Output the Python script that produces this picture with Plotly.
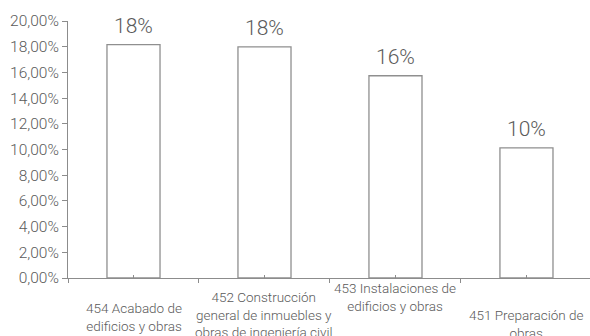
import plotly.graph_objects as go

categories = ["454", "452", "453", "451"]
category_labels = [
    "454 Acabado de<br>edificios y obras",
    "452 Construcción<br>general de inmuebles y<br>obras de ingeniería civil",
    "453 Instalaciones de<br>edificios y obras",
    "451 Preparación de<br>obras",
]
values = [0.1816, 0.1798, 0.1574, 0.1013]
y_ticks = [0, 0.02, 0.04, 0.06, 0.08, 0.10, 0.12, 0.14, 0.16, 0.18, 0.20]

FONT = "Roboto"
TXT = "#5a5a5a"
AX = "#8c8c8c"

fig = go.Figure()
fig.add_trace(go.Bar(
    x=categories, y=values, width=0.405,
    marker=dict(color="white", line=dict(color="#8f8f8f", width=1.3)),
    hoverinfo="skip",
))
# invisible helper on overlay axis for center ticks
fig.add_trace(go.Scatter(x=categories, y=values, xaxis="x2", mode="markers",
                         marker=dict(opacity=0), hoverinfo="skip", showlegend=False))

for i, v in enumerate(values):
    fig.add_annotation(x=i, y=v, xref="x", yref="y", text=f"{v*100:.0f}%",
                       showarrow=False, yanchor="bottom", yshift=5,
                       font=dict(family=FONT, size=21, color=TXT, weight=300))

label_shifts = [-20, -9, 0, -27]
for i, (lab, s) in enumerate(zip(category_labels, label_shifts)):
    fig.add_annotation(x=i, y=0, xref="x", yref="paper", text=lab, showarrow=False,
                       yanchor="top", yshift=s,
                       font=dict(family=FONT, size=13.5, color=TXT, weight=300))

fig.update_layout(
    width=590, height=336,
    margin=dict(l=68, r=0, t=21, b=58, autoexpand=False),
    plot_bgcolor="white", paper_bgcolor="white",
    separators=",.",
    showlegend=False,
    xaxis=dict(type="category", range=[-0.5, 3.485], showline=True, linecolor=AX,
               linewidth=1, ticks="outside", tickson="boundaries", ticklen=4,
               tickcolor=AX, showticklabels=False, showgrid=False, zeroline=False,
               automargin=False),
    xaxis2=dict(type="category", overlaying="x", range=[-0.5, 3.485], side="bottom",
                ticks="inside", ticklen=3, tickcolor=AX, showticklabels=False,
                showline=False, showgrid=False, zeroline=False,
                automargin=False),
    yaxis=dict(range=[0, 0.20], tickvals=y_ticks, tickformat=".2%", showline=True,
               linecolor=AX, linewidth=1, ticks="outside", ticklen=5, tickcolor=AX,
               showgrid=False, zeroline=False, automargin=False,
               tickfont=dict(family=FONT, size=15.5, color=TXT, weight=300)),
)

fig.write_html("out.html", config={"displayModeBar": False},
               post_script="document.body.style.margin='0';")
